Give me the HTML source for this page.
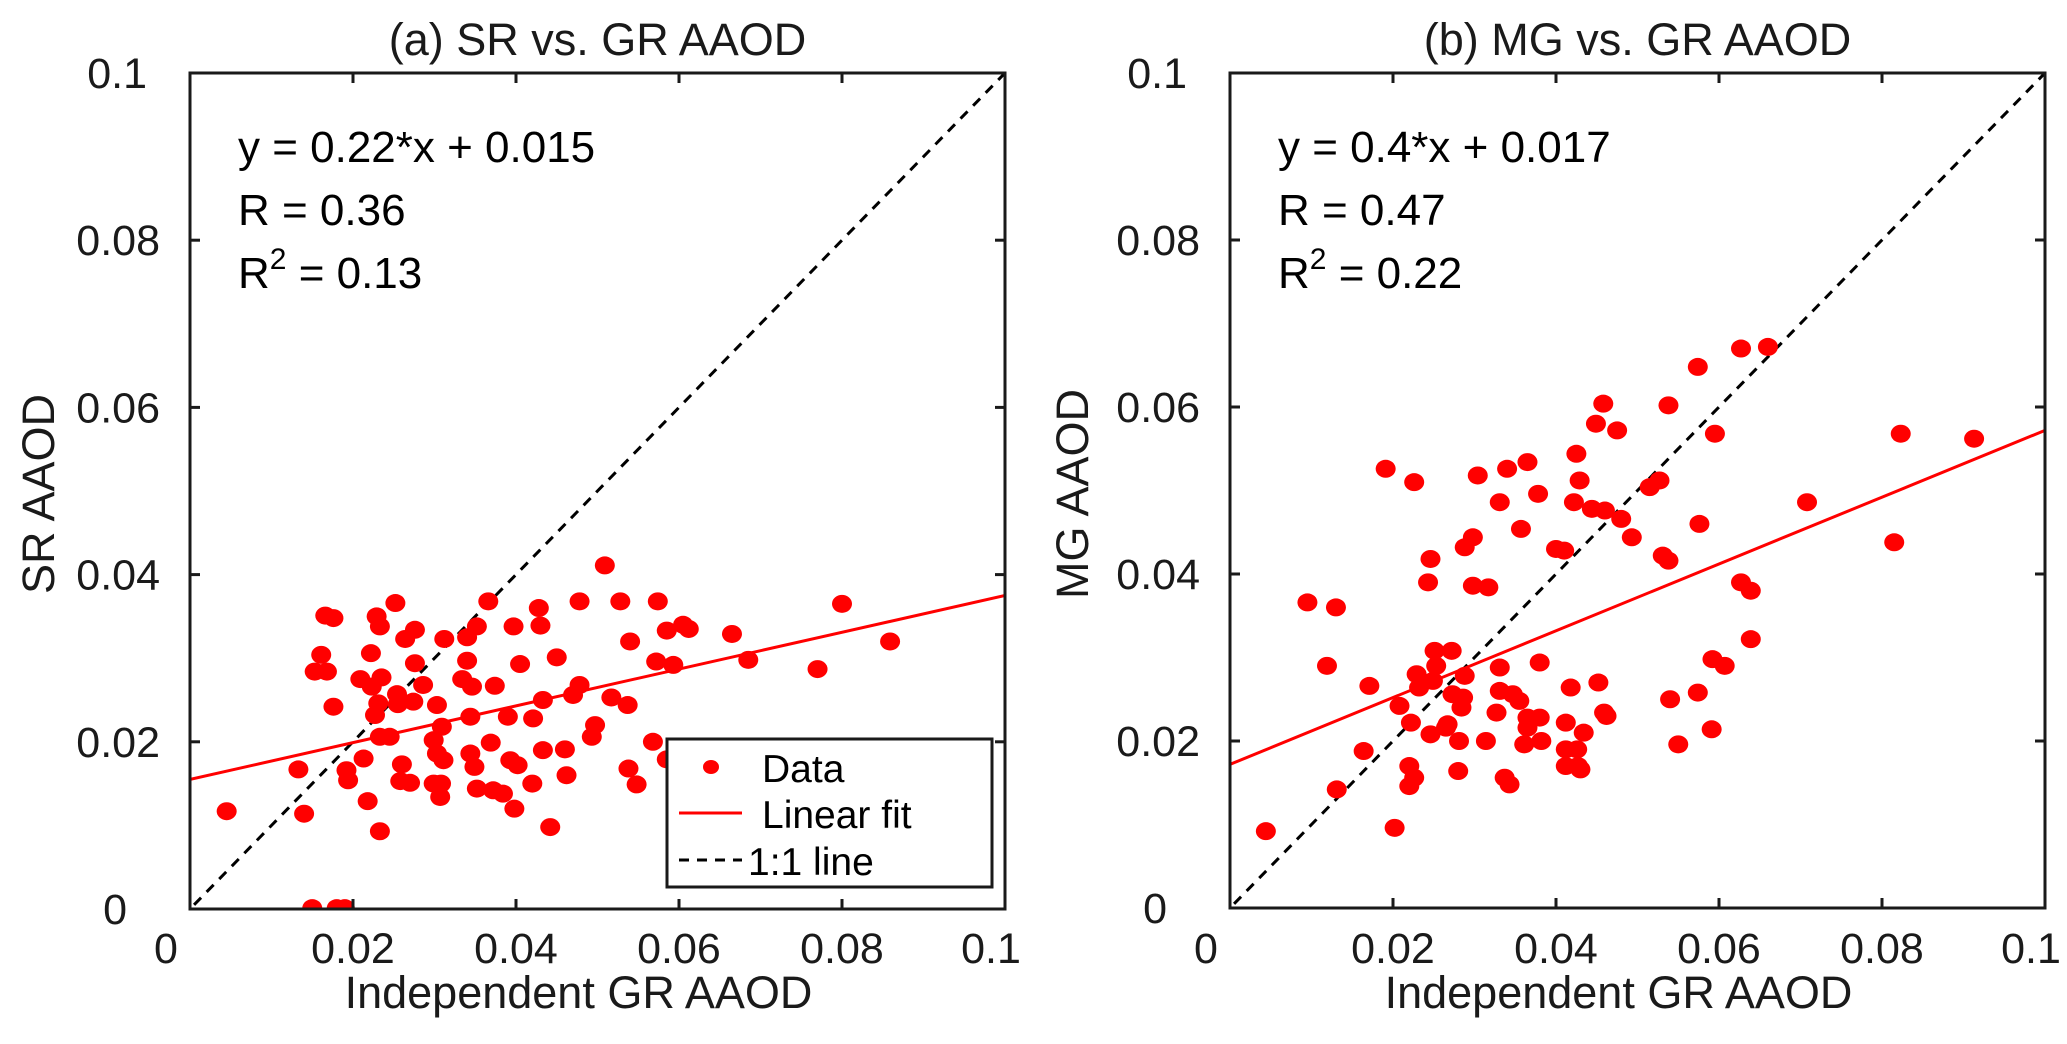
<!DOCTYPE html>
<html><head><meta charset="utf-8"><style>
html,body{margin:0;padding:0;background:#fff;}
svg{display:block;font-family:"Liberation Sans",Arial,sans-serif;}
</style></head><body>
<svg id="fig" width="2067" height="1044" viewBox="0 0 2067 1044" xmlns="http://www.w3.org/2000/svg"></svg>
<script>
// ---- data (panel a: SR vs GR) ----
const srX = [0.0045,0.0133,0.014,0.015,0.018,0.019,0.0166,0.0176,0.0161,0.0153,0.0168,0.0176,0.0192,0.0194,0.0209,0.0213,0.0218,0.0222,0.0223,0.0227,0.0229,0.0233,0.0235,0.0231,0.0233,0.0233,0.0245,0.0252,0.0254,0.0255,0.026,0.0258,0.0264,0.0270,0.0274,0.0276,0.0276,0.0286,0.0303,0.0299,0.0303,0.0299,0.0308,0.0307,0.0309,0.0311,0.0312,0.0334,0.0340,0.0340,0.0344,0.0344,0.0346,0.0349,0.0352,0.0352,0.0366,0.0369,0.0374,0.0372,0.0384,0.0390,0.0393,0.0397,0.0398,0.0402,0.0405,0.0420,0.0421,0.0428,0.0430,0.0433,0.0433,0.0442,0.0450,0.0460,0.0462,0.0470,0.0478,0.0478,0.0493,0.0497,0.0509,0.0517,0.0528,0.0537,0.0538,0.0540,0.0548,0.0568,0.0572,0.0574,0.0585,0.0585,0.0593,0.0605,0.0612,0.0665,0.0685,0.0770,0.0800,0.0859];
const srY = [0.0117,0.0167,0.0114,0.0001,0.0001,0.0001,0.0351,0.0348,0.0304,0.0284,0.0284,0.0242,0.0166,0.0154,0.0275,0.0180,0.0129,0.0306,0.0266,0.0232,0.0350,0.0338,0.0277,0.0246,0.0206,0.0093,0.0206,0.0366,0.0257,0.0245,0.0173,0.0153,0.0323,0.0151,0.0248,0.0334,0.0294,0.0268,0.0244,0.0202,0.0186,0.0150,0.0150,0.0134,0.0218,0.0178,0.0323,0.0275,0.0325,0.0297,0.0230,0.0186,0.0266,0.0170,0.0338,0.0144,0.0368,0.0199,0.0267,0.0142,0.0138,0.0230,0.0178,0.0338,0.0120,0.0172,0.0293,0.0150,0.0228,0.0360,0.0339,0.0250,0.0190,0.0098,0.0301,0.0191,0.0160,0.0256,0.0268,0.0368,0.0206,0.0220,0.0411,0.0253,0.0368,0.0244,0.0168,0.0320,0.0149,0.0200,0.0296,0.0368,0.0333,0.0179,0.0292,0.0340,0.0335,0.0329,0.0298,0.0287,0.0365,0.0320];
// ---- data (panel b: MG vs GR) ----
const mgX = [0.0044,0.0095,0.0119,0.0130,0.0131,0.0171,0.0164,0.0191,0.0202,0.0208,0.0220,0.0220,0.0222,0.0226,0.0226,0.0229,0.0232,0.0243,0.0246,0.0246,0.0249,0.0251,0.0253,0.0265,0.0267,0.0272,0.0273,0.0280,0.0281,0.0284,0.0286,0.0288,0.0288,0.0298,0.0298,0.0304,0.0314,0.0317,0.0327,0.0331,0.0331,0.0331,0.0337,0.0340,0.0343,0.0347,0.0355,0.0357,0.0361,0.0365,0.0365,0.0365,0.0378,0.0380,0.0380,0.0382,0.0400,0.0410,0.0412,0.0412,0.0412,0.0418,0.0422,0.0425,0.0426,0.0427,0.0429,0.0430,0.0434,0.0444,0.0449,0.0452,0.0458,0.0459,0.0460,0.0462,0.0475,0.0480,0.0493,0.0515,0.0527,0.0531,0.0538,0.0538,0.0540,0.0550,0.0574,0.0574,0.0576,0.0591,0.0592,0.0595,0.0607,0.0627,0.0627,0.0639,0.0639,0.0660,0.0708,0.0815,0.0823,0.0913];
const mgY = [0.0092,0.0366,0.0290,0.0360,0.0142,0.0266,0.0188,0.0526,0.0096,0.0242,0.0170,0.0146,0.0222,0.0510,0.0156,0.0280,0.0264,0.0390,0.0208,0.0418,0.0272,0.0308,0.0290,0.0216,0.0220,0.0308,0.0256,0.0164,0.0200,0.0240,0.0252,0.0278,0.0432,0.0444,0.0386,0.0518,0.0200,0.0384,0.0234,0.0486,0.0288,0.0260,0.0156,0.0526,0.0148,0.0256,0.0248,0.0454,0.0196,0.0228,0.0534,0.0216,0.0496,0.0294,0.0228,0.0200,0.0430,0.0428,0.0190,0.0222,0.0170,0.0264,0.0486,0.0544,0.0190,0.0170,0.0512,0.0166,0.0210,0.0478,0.0580,0.0270,0.0604,0.0234,0.0476,0.0230,0.0572,0.0466,0.0444,0.0504,0.0512,0.0422,0.0416,0.0602,0.0250,0.0196,0.0648,0.0258,0.0460,0.0214,0.0298,0.0568,0.0290,0.0670,0.0390,0.0380,0.0322,0.0672,0.0486,0.0438,0.0568,0.0562];
const fitA = [0.22, 0.0155];
const fitB = [0.40, 0.0172];
const tickVals = [0, 0.02, 0.04, 0.06, 0.08, 0.1];
const tickLabels = ["0","0.02","0.04","0.06","0.08","0.1"];

const NS = "http://www.w3.org/2000/svg";
const svg = document.getElementById("fig");
function mk(tag, attrs, parent){
  const e = document.createElementNS(NS, tag);
  for (const k in attrs) e.setAttribute(k, attrs[k]);
  (parent||svg).appendChild(e);
  return e;
}

function panel(cfg){
  const {L,R,T,B,xs,ys,fit,title,ylab,ylabX,pid,legend} = cfg;
  const g = mk("g", {});
  
  
  const sx = v => L + v/0.1*(R-L);
  const sy = v => B - v/0.1*(B-T);
  const cp = mk("clipPath", {id: pid+"clip"}, g);
  mk("rect", {x:L, y:T, width:R-L, height:B-T}, cp);
  const plot = mk("g", {"clip-path":"url(#"+pid+"clip)"}, g);
  const one = mk("line", {x1:sx(0.0005), y1:sy(0.0005), x2:sx(0.1), y2:sy(0.1), stroke:"#000", "stroke-width":3, "stroke-dasharray":"10,8"}, plot);
  
  
  const fl = mk("line", {x1:sx(0), y1:sy(fit[1]), x2:sx(0.1), y2:sy(fit[0]*0.1+fit[1]), stroke:"#ff0000", "stroke-width":3}, plot);
  
  
  for (let i=0;i<xs.length;i++){
    const p = mk("ellipse", {cx:sx(xs[i]), cy:sy(ys[i]), rx:10, ry:9, fill:"#ff0000"}, plot);
    
    
  }
  const box = mk("rect", {x:L, y:T, width:R-L, height:B-T, fill:"none", stroke:"#1a1a1a", "stroke-width":3}, g);
  
  
  for (let i=0;i<tickVals.length;i++){
    const x = sx(tickVals[i]), y = sy(tickVals[i]);
    mk("line",{x1:x,y1:B,x2:x,y2:B-10,stroke:"#1a1a1a","stroke-width":3},g);
    mk("line",{x1:x,y1:T,x2:x,y2:T+10,stroke:"#1a1a1a","stroke-width":3},g);
    mk("line",{x1:L,y1:y,x2:L+10,y2:y,stroke:"#1a1a1a","stroke-width":3},g);
    mk("line",{x1:R,y1:y,x2:R-10,y2:y,stroke:"#1a1a1a","stroke-width":3},g);
    const xt = mk("text",{x: i===0 ? x-24 : (i===5 ? x-14 : x), y:963, "font-size":43, "text-anchor":"middle", fill:"#1a1a1a"}, g);
    xt.textContent = tickLabels[i];
    
    
    const yt = mk("text",{x: i===0 ? L-63 : (i===5 ? L-43 : L-30), y:y+15, "font-size":43, "text-anchor":"end", fill:"#1a1a1a"}, g);
    yt.textContent = tickLabels[i];
    
    
  }
  const tt = mk("text",{x:(L+R)/2, y:55, "font-size":45, "text-anchor":"middle", fill:"#1a1a1a"}, g);
  tt.textContent = title;
  
  
  const xl = mk("text",{x:(L+R)/2-19, y:1008, "font-size":45, "text-anchor":"middle", fill:"#1a1a1a"}, g);
  xl.textContent = "Independent GR AAOD";
  
  
  const yl = mk("text",{x:0, y:0, "font-size":45, "text-anchor":"middle", fill:"#1a1a1a", transform:"translate("+ylabX+",494) rotate(-90)"}, g);
  yl.textContent = ylab;
  
  
  const eq = mk("text",{x:L+48, y:162, "font-size":44, fill:"#000"}, g);
  eq.textContent = "y = " + cfg.slope + "*x + " + cfg.icpt;
  
  
  const rt = mk("text",{x:L+48, y:225, "font-size":44, fill:"#000"}, g);
  rt.textContent = "R = " + cfg.r;
  
  
  const r2 = mk("text",{x:L+48, y:288, "font-size":44, fill:"#000"}, g);
  r2.innerHTML = 'R<tspan dy="-19" font-size="30">2</tspan><tspan dy="19"> = ' + cfg.r2 + '</tspan>';
  
  

  if (legend){
    const lg = mk("g",{}, g);
    
    
    mk("rect",{x:667,y:739,width:325,height:148,fill:"#fff",stroke:"#1a1a1a","stroke-width":3}, lg);
    mk("ellipse",{cx:711,cy:767,rx:8,ry:7,fill:"#ff0000"}, lg);
    mk("line",{x1:679,y1:813,x2:742,y2:813,stroke:"#ff0000","stroke-width":3}, lg);
    mk("line",{x1:679,y1:860,x2:742,y2:860,stroke:"#000","stroke-width":3,"stroke-dasharray":"10,8"}, lg);
    const labs = ["Data","Linear fit","1:1 line"], ly=[782,828,875];
    for (let i=0;i<3;i++){
      const t = mk("text",{x: i===2 ? 748 : 762, y:ly[i], "font-size":39, fill:"#000"}, lg);
      t.textContent = labs[i];
      
      
    }
  }
}

panel({L:190,R:1005,T:73,B:909,xs:srX,ys:srY,fit:fitA,slope:"0.22",icpt:"0.015",r:"0.36",r2:"0.13",title:"(a) SR  vs. GR AAOD",ylab:"SR AAOD",ylabX:54,pid:"a",legend:true});
panel({L:1230,R:2045,T:73,B:908,xs:mgX,ys:mgY,fit:fitB,slope:"0.4",icpt:"0.017",r:"0.47",r2:"0.22",title:"(b) MG vs.  GR AAOD",ylab:"MG AAOD",ylabX:1088,pid:"b",legend:false});
</script>
</body></html>
